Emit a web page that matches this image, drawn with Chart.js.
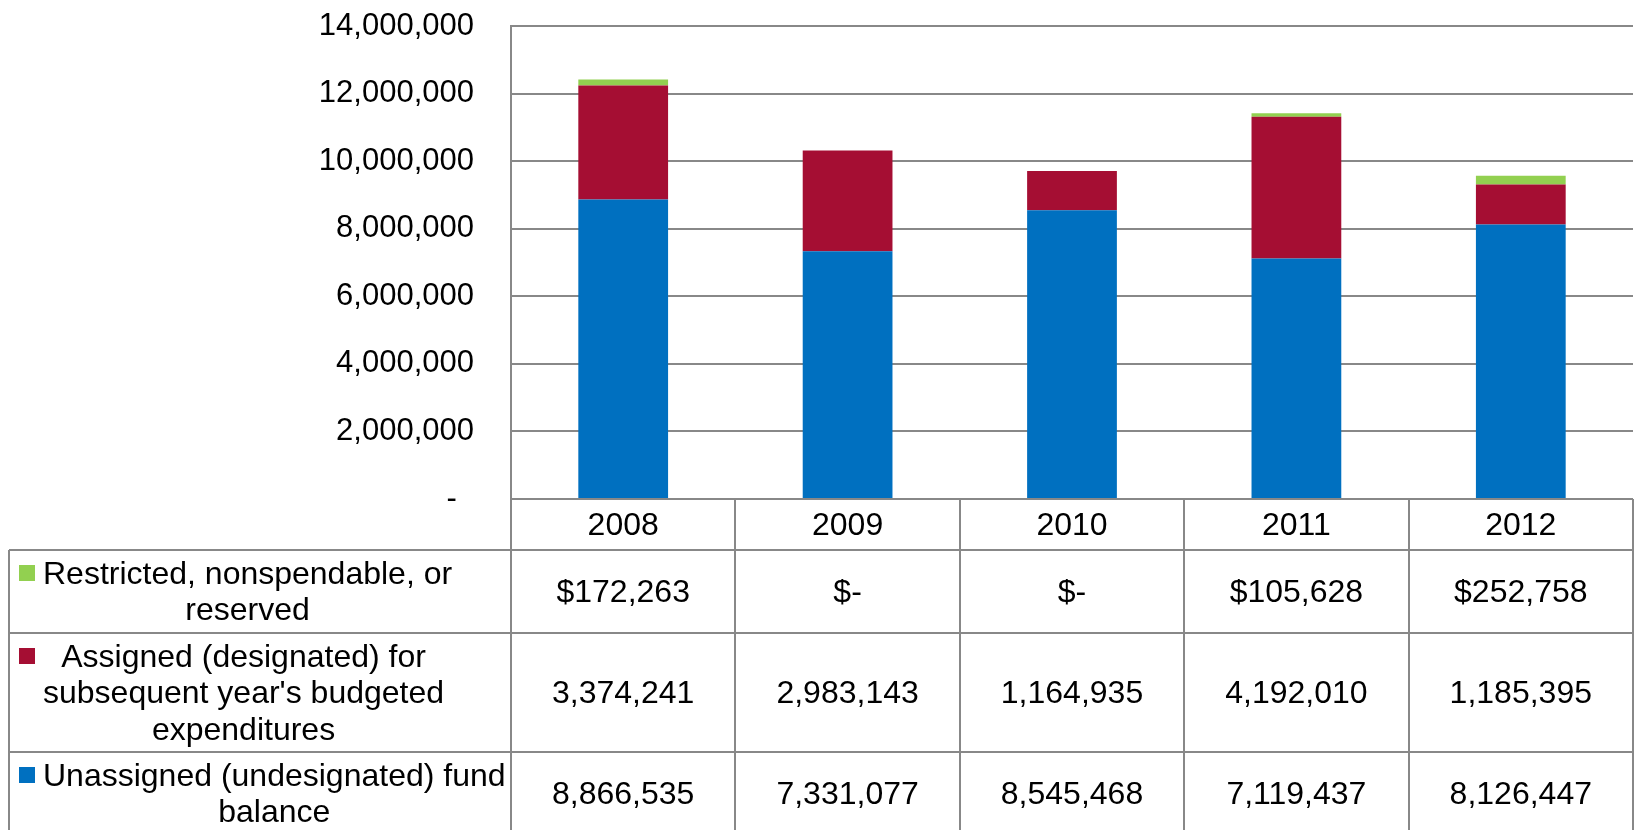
<!DOCTYPE html>
<html>
<head>
<meta charset="utf-8">
<title>Fund balance 2008-2012</title>
<script src="https://cdn.jsdelivr.net/npm/chart.js@4.4.1/dist/chart.umd.min.js"></script>
<style>
  body { margin: 0; background: #fff; }
  #wrap { width: 1634px; height: 830px; }
</style>
</head>
<body>
<div id="wrap"><canvas id="fundChart" width="1634" height="830"></canvas></div>
<script>
const years = ["2008", "2009", "2010", "2011", "2012"];
const unassigned = [8866535, 7331077, 8545468, 7119437, 8126447];
const assigned = [3374241, 2983143, 1164935, 4192010, 1185395];
const restricted = [172263, 0, 0, 105628, 252758];

const yTicks = [0, 2000000, 4000000, 6000000, 8000000, 10000000, 12000000, 14000000];

// table row labels (as wrapped in the original)
const restrictedLabel = ["Restricted, nonspendable, or", "reserved"];
const assignedLabel = ["Assigned (designated) for", "subsequent year's budgeted", "expenditures"];
const unassignedLabel = ["Unassigned (undesignated) fund", "balance"];

const blue = "#0070C0";
const red = "#A50E33";
const green = "#92D050";
const lineColor = "#888888";
const fontFamily = '"Liberation Sans", Arial, sans-serif';

function fmt(v) {
    return v.toLocaleString("en-US");
}
function fmtDollar(v) {
    return v === 0 ? "$-" : "$" + fmt(v);
}

// rows of the data table, top to bottom
const tableRows = [
    { label: restrictedLabel, color: green, values: restricted.map(fmtDollar), height: 83 },
    { label: assignedLabel, color: red, values: assigned.map(fmt), height: 119 },
    { label: unassignedLabel, color: blue, values: unassigned.map(fmt), height: 83 }
];

const dataTable = {
    id: "dataTable",
    afterDraw(chart) {
        const ctx = chart.ctx;
        const area = chart.chartArea;
        const x = chart.scales.x;
        const w = (area.right - area.left) / years.length;
        const top = area.bottom;
        const headerBottom = top + 51;
        const size = 32;
        const half = 30 * 0.358;

        ctx.save();
        ctx.strokeStyle = lineColor;
        ctx.lineWidth = 2;

        // column lines
        for (let i = 0; i <= years.length; i++) {
            const cx = Math.round(area.left + i * w);
            ctx.beginPath();
            ctx.moveTo(cx, top);
            ctx.lineTo(cx, chart.height);
            ctx.stroke();
        }
        // left border of label column
        ctx.beginPath();
        ctx.moveTo(9, headerBottom);
        ctx.lineTo(9, chart.height);
        ctx.stroke();

        ctx.font = size + "px " + fontFamily;
        ctx.fillStyle = "#000";
        ctx.textBaseline = "alphabetic";

        // header with years
        ctx.textAlign = "center";
        const headMid = (top + headerBottom) / 2;
        years.forEach((yr, i) => {
            ctx.fillText(yr, x.getPixelForValue(i), headMid + half);
        });

        let rowTop = headerBottom;
        tableRows.forEach(row => {
            ctx.beginPath();
            ctx.moveTo(9, rowTop);
            ctx.lineTo(area.right, rowTop);
            ctx.stroke();

            const mid = rowTop + row.height / 2;
            const lh = 36.5;
            const firstCenter = mid - (row.label.length - 1) * lh / 2;

            // legend key
            ctx.fillStyle = row.color;
            ctx.fillRect(19, Math.round(firstCenter - 8), 16, 16);

            // label lines, centered on the widest one
            ctx.fillStyle = "#000";
            const maxW = Math.max(...row.label.map(t => ctx.measureText(t).width));
            const labelCenter = 43 + maxW / 2;
            ctx.textAlign = "center";
            row.label.forEach((t, k) => {
                ctx.fillText(t, labelCenter, firstCenter + k * lh + half);
            });

            row.values.forEach((v, i) => {
                ctx.fillText(v, x.getPixelForValue(i), mid + half);
            });
            rowTop += row.height;
        });
        ctx.restore();
    }
};

Chart.defaults.font.family = fontFamily;
Chart.defaults.color = "#000";

new Chart(document.getElementById("fundChart"), {
    type: "bar",
    data: {
        labels: years,
        datasets: [
            { label: "Unassigned (undesignated) fund balance", data: unassigned, backgroundColor: blue },
            { label: "Assigned (designated) for subsequent year's budgeted expenditures", data: assigned, backgroundColor: red },
            { label: "Restricted, nonspendable, or reserved", data: restricted, backgroundColor: green }
        ]
    },
    options: {
        responsive: false,
        animation: false,
        layout: { padding: { top: 26, right: 1, left: 0, bottom: 0 } },
        datasets: { bar: { barPercentage: 0.4, categoryPercentage: 1 } },
        plugins: {
            legend: { display: false },
            tooltip: { enabled: false }
        },
        scales: {
            x: {
                stacked: true,
                ticks: { display: false },
                grid: { display: false },
                border: { display: false },
                afterFit(scale) { scale.height = 331; }
            },
            y: {
                stacked: true,
                min: 0,
                max: 14000000,
                afterBuildTicks(scale) { scale.ticks = yTicks.map(v => ({ value: v })); },
                ticks: {
                    padding: 37,
                    font: { size: 31 },
                    color: "#000",
                    callback: v => v === 0 ? "-  " : fmt(v)
                },
                grid: { color: lineColor, lineWidth: 2, drawTicks: false },
                border: { display: true, color: lineColor, width: 2 },
                afterFit(scale) {
                    scale.width = 511;
                    scale.paddingTop = 0;
                    scale.paddingBottom = 0;
                }
            }
        }
    },
    plugins: [dataTable]
});
</script>
</body>
</html>
